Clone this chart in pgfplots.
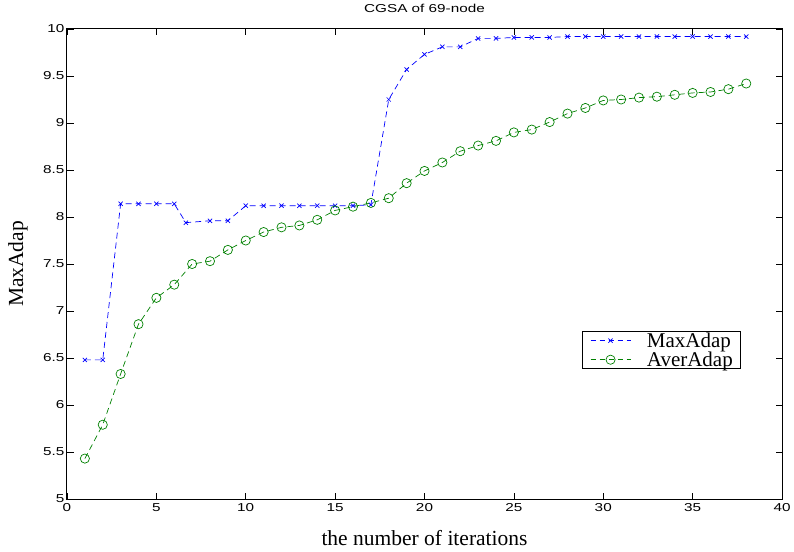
\documentclass[border=0pt]{standalone}
\usepackage{fontspec}
\setmainfont{Liberation Serif}
\newfontfamily\sansstretch[FakeStretch=1.33]{Liberation Sans}
\usepackage{pgfplots}
\pgfplotsset{compat=1.18}
\definecolor{mblue}{rgb}{0,0,1}
\definecolor{mgreen}{rgb}{0,0.5,0}
\begin{document}
\begin{tikzpicture}
\begin{axis}[
  scale only axis,
  width=715pt, height=470pt,
  xmin=0, xmax=40, ymin=5, ymax=10,
  xtick={0,5,...,40},
  ytick={5,5.5,...,10},
  yticklabels={5,5.5,6,6.5,7,7.5,8,8.5,9,9.5,10},
  tick align=inside,
  major tick length=6.5pt,
  tick style={black, line width=0.6pt},
  axis line style={black, line width=1pt},
  every tick label/.append style={font=\sansstretch\fontsize{11.5}{12}\selectfont},
  /pgf/number format/assume math mode=true,
  xticklabel style={yshift=-1pt},
  yticklabel style={xshift=1pt},
  title={\sansstretch\fontsize{11.5}{12}\selectfont CGSA of 69-node},
  title style={at={(axis description cs:0.5,1)}, anchor=base, yshift=10pt},
  xlabel={the number of iterations},
  ylabel={MaxAdap},
  label style={font=\fontsize{21.5}{23}\selectfont},
  xlabel style={at={(axis description cs:0.5,0)}, anchor=center, yshift=-39pt},
  ylabel style={at={(axis description cs:-0.0685,0.5)}, anchor=center},
  legend style={at={(axis description cs:0.720,0.357)}, anchor=north west,
    draw=black, line width=0.8pt, fill=white,
    font=\fontsize{21}{21}\selectfont,
    inner xsep=8pt, inner ysep=1pt, row sep=3pt,
    nodes={inner sep=0pt, anchor=west},
    /tikz/every odd column/.append style={column sep=16pt}},
  legend cell align=left,
  legend image code/.code={%
    \draw[#1, line width=0.7pt, dash pattern=on 5pt off 4pt] (0pt,0pt) -- (40pt,0pt);
    \draw[#1, solid, line width=0.7pt] plot coordinates {(20pt,0pt)};},
  clip=false,
]
\addplot[mblue, line width=0.7pt, dash pattern=on 6pt off 4pt, mark=x, mark size=3pt,
  mark options={solid, line width=0.7pt}] coordinates {
 (1,6.48) (2,6.48) (3,8.14) (4,8.14) (5,8.14) (6,8.14) (6.65,7.94) (8,7.96) (9,7.96)
 (10,8.12) (11,8.12) (12,8.12) (13,8.12) (14,8.12) (15,8.12) (16,8.12) (17,8.13)
 (18,9.25) (19,9.57) (20,9.73) (21,9.81) (22,9.81) (23,9.90) (24,9.90) (25,9.91)
 (26,9.91) (27,9.91) (28,9.92) (29,9.92) (30,9.92) (31,9.92) (32,9.92) (33,9.92)
 (34,9.92) (35,9.92) (36,9.92) (37,9.92) (38,9.92)};
\addlegendentry{MaxAdap}
\addplot[mgreen, line width=0.7pt, dash pattern=on 6pt off 4pt, mark=o, mark size=4.6pt,
  mark options={solid, line width=0.7pt}] coordinates {
 (1,5.43) (2,5.79) (3,6.33) (4,6.86) (5,7.14) (6,7.28) (7,7.50) (8,7.53) (9,7.65)
 (10,7.75) (11,7.84) (12,7.89) (13,7.91) (14,7.97) (15,8.07) (16,8.11) (17,8.15)
 (18,8.20) (19,8.36) (20,8.49) (21,8.58) (22,8.70) (23,8.76) (24,8.81) (25,8.90)
 (26,8.93) (27,9.01) (28,9.10) (29,9.16) (30,9.24) (31,9.25) (32,9.27) (33,9.28)
 (34,9.30) (35,9.32) (36,9.33) (37,9.36) (38,9.42)};
\addlegendentry{AverAdap}
\end{axis}
\pgfresetboundingbox
\path ([shift={(-67pt,-52pt)}]current axis.south west) rectangle ([shift={(12pt,29pt)}]current axis.north east);
\end{tikzpicture}
\end{document}
